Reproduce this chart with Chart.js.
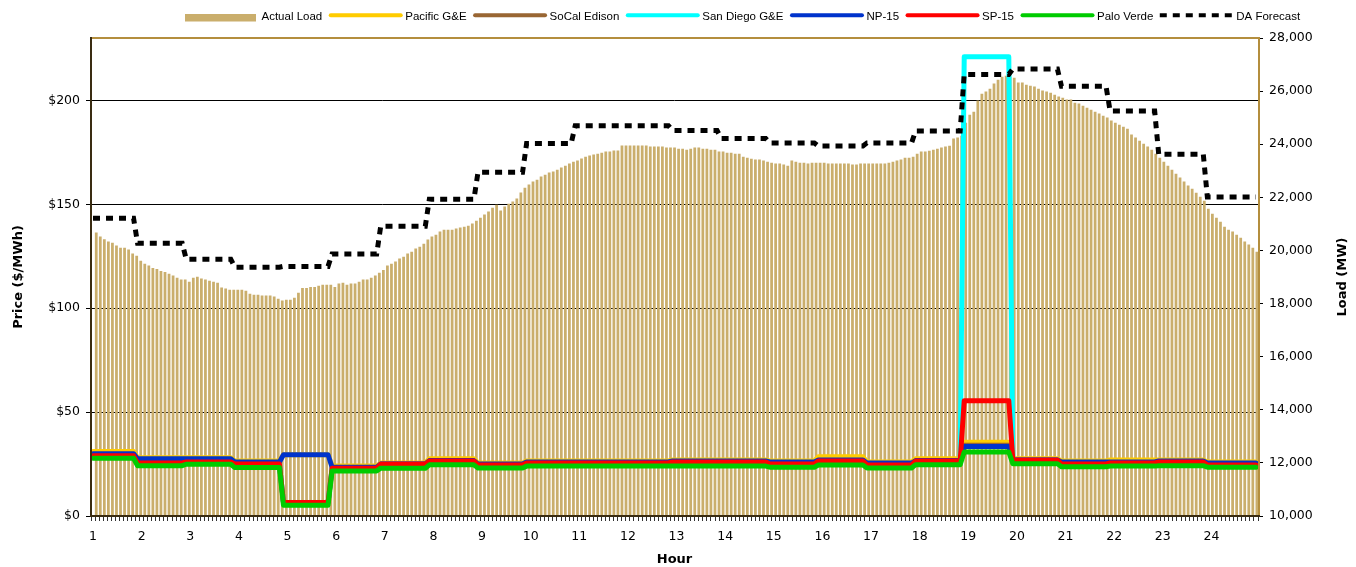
<!DOCTYPE html>
<html>
<head>
<meta charset="utf-8">
<script src="https://cdn.jsdelivr.net/npm/chart.js@4/dist/chart.umd.min.js"></script>
<style>
  html, body { margin: 0; padding: 0; background: #ffffff; }
  #wrap { width: 1356px; height: 567px; position: relative; }
</style>
</head>
<body>
<div id="wrap"><canvas id="chart" width="1356" height="567"></canvas></div>
<script>
// Hour labels on the category axis (one per 12 five-minute intervals)
const hourLabels = ['1','2','3','4','5','6','7','8','9','10','11','12','13','14','15','16','17','18','19','20','21','22','23','24'];

// Five-minute interval slots for the day
const intervalLabels = Array.from({ length: 288 }, (_, i) => 'I' + (i + 1));

// Actual system load, MW, per five-minute interval
const actualLoad = [
  20660,20510,20410,20320,20280,20170,20090,20090,20020,19870,19790,19600,
  19490,19420,19330,19290,19210,19180,19110,19040,18960,18890,18890,18810,
  18960,19000,18930,18890,18850,18810,18770,18590,18550,18510,18510,18510,
  18510,18470,18360,18320,18320,18290,18290,18290,18250,18170,18100,18130,
  18130,18210,18390,18570,18570,18610,18610,18660,18700,18700,18700,18610,
  18740,18770,18700,18740,18740,18810,18890,18890,18960,19040,19150,19250,
  19420,19490,19570,19680,19750,19870,19940,20060,20130,20240,20400,20510,
  20580,20700,20770,20770,20770,20810,20850,20880,20920,21000,21110,21220,
  21340,21450,21600,21710,21490,21640,21750,21830,21940,22170,22350,22470,
  22580,22650,22770,22840,22920,22960,23030,23110,23180,23260,23330,23370,
  23450,23520,23560,23600,23630,23670,23710,23710,23750,23750,23940,23940,
  23940,23940,23940,23940,23940,23900,23900,23900,23900,23860,23860,23860,
  23820,23820,23780,23820,23860,23860,23820,23820,23780,23780,23710,23710,
  23670,23670,23630,23630,23520,23480,23440,23410,23410,23370,23330,23290,
  23260,23260,23220,23180,23370,23330,23290,23290,23260,23290,23290,23290,
  23290,23260,23260,23260,23260,23260,23260,23220,23220,23260,23260,23260,
  23260,23260,23260,23260,23290,23330,23370,23410,23480,23480,23520,23630,
  23710,23710,23740,23780,23820,23860,23900,23930,24200,24240,24310,24800,
  25100,25210,25630,25890,25970,26080,26270,26420,26530,26570,26530,26490,
  26310,26310,26230,26190,26160,26080,26010,25970,25930,25850,25780,25740,
  25670,25670,25550,25520,25440,25360,25290,25210,25140,25060,24990,24880,
  24800,24720,24650,24570,24350,24240,24120,24010,23900,23780,23630,23480,
  23330,23180,23030,22880,22730,22580,22430,22310,22160,22010,21860,21560,
  21370,21220,21070,20880,20770,20700,20580,20470,20320,20210,20090,19940
];

// Hourly prices, $/MWh
const pacificGE   = [31, 28, 28, 26.5, 29.5, 24, 25.5, 27.5, 25.5, 26.5, 26.5, 26.5, 27, 27, 26.5, 28.5, 26, 27.5, 35.5, 27.5, 26.5, 27, 27, 26];
const socalEdison = [29, 25.5, 26, 25, 6.5, 23, 25, 26.5, 24.5, 25.5, 25.5, 25.5, 26, 26, 25, 26.5, 24.5, 26.5, 34, 27, 25, 25.5, 26, 24.5];
const sanDiegoGE  = [29, 25.5, 26, 25, 6.5, 23, 25, 26.5, 24.5, 25.5, 25.5, 25.5, 26, 26, 25, 26.5, 24.5, 26.5, 221, 27, 25, 25.5, 26, 24.5];
const np15        = [30, 27.5, 27.5, 26, 29.5, 23.5, 25, 26.7, 25, 26, 26, 26, 26.5, 26.5, 26, 27, 25.5, 26.7, 33.5, 27, 26, 26, 26.5, 25.5];
const sp15        = [29, 25.5, 26, 25, 6.5, 23, 25, 26.5, 24.5, 25.5, 25.5, 25.5, 26, 26, 25, 26.5, 24.5, 26.5, 55.5, 27, 25, 25.5, 26, 24.5];
const paloVerde   = [27.8, 24.2, 24.9, 23.3, 5.2, 21.7, 23, 24.6, 23.1, 24, 24, 24, 24, 24, 23.5, 24.5, 23.1, 24.7, 30.8, 25.2, 23.7, 24, 24.2, 23.5];

// Day-ahead load forecast, MW per hour
const daForecast  = [21210, 20270, 19670, 19370, 19400, 19870, 20910, 21930, 22940, 24030, 24700, 24700, 24520, 24220, 24050, 23930, 24050, 24500, 26630, 26830, 26180, 25250, 23620, 22010];

// Tick values for the two value axes
const priceTicks = [0, 50, 100, 150, 200];
const loadTicks  = [10000, 12000, 14000, 16000, 18000, 20000, 22000, 24000, 26000, 28000];

// Hourly values repeated over the interval slots of each hour
// (an hour's value takes effect at the last interval of the previous hour)
const perInterval = hourly => intervalLabels.map((_, i) => hourly[Math.min(hourly.length - 1, Math.floor((i + 1) / 12))]);

const TAN = '#CAAE6C';
const GOLD = '#B48E3E';
const DARK = '#3A2C12';
const TICK_FONT = { family: 'DejaVu Sans', size: 12.5 };
const TITLE_FONT = { family: 'DejaVu Sans', size: 13, weight: 'bold' };

const lineStyle = (label, data, color, order) => ({
  type: 'line', label, data: perInterval(data), xAxisID: 'x', yAxisID: 'yPrice',
  borderColor: color, backgroundColor: color, borderWidth: 5, pointRadius: 0,
  tension: 0, fill: false, borderJoinStyle: 'round', borderCapStyle: 'round', order
});

// Plot frame: dark axis lines on left/bottom, gold edges on top/right
const plotFrame = {
  id: 'plotFrame',
  afterDatasetsDraw(chart) {
    const { ctx, chartArea: a } = chart;
    ctx.save();
    ctx.lineWidth = 2;
    ctx.strokeStyle = GOLD;
    ctx.beginPath();
    ctx.moveTo(a.left, a.top);
    ctx.lineTo(a.right + 1, a.top);
    ctx.lineTo(a.right + 1, a.bottom);
    ctx.stroke();
    ctx.strokeStyle = DARK;
    ctx.beginPath();
    ctx.moveTo(a.left, a.top - 1);
    ctx.lineTo(a.left, a.bottom);
    ctx.lineTo(a.right + 2, a.bottom);
    ctx.stroke();
    ctx.restore();
  }
};

// Secondary axis title, reading bottom-to-top like the primary one
const loadTitle = {
  id: 'loadTitle',
  afterDraw(chart) {
    const { ctx, chartArea: a } = chart;
    ctx.save();
    ctx.translate(1343, (a.top + a.bottom) / 2);
    ctx.rotate(-Math.PI / 2);
    ctx.font = `bold ${TITLE_FONT.size}px "${TITLE_FONT.family}"`;
    ctx.fillStyle = '#000';
    ctx.textAlign = 'center';
    ctx.textBaseline = 'middle';
    ctx.fillText('Load (MW)', 0, 0);
    ctx.restore();
  }
};

// Single-row legend with long line samples
const topLegend = {
  id: 'topLegend',
  afterDraw(chart) {
    const { ctx } = chart;
    const sampleW = 74, gapText = 2.5, gapItem = 6.5;
    let x = 185;
    ctx.save();
    ctx.font = '11.5px "Liberation Sans"';
    ctx.textBaseline = 'middle';
    ctx.fillStyle = '#000';
    chart.data.datasets.forEach(ds => {
      if (ds.type === 'bar') {
        ctx.fillStyle = ds.backgroundColor;
        ctx.fillRect(x, 14, sampleW - 3, 7.5);
      } else {
        ctx.strokeStyle = ds.borderColor;
        ctx.lineWidth = 4;
        if (ds.borderDash) {
          ctx.setLineDash(ds.borderDash);
          ctx.lineCap = 'butt';
          ctx.beginPath(); ctx.moveTo(x, 15.3); ctx.lineTo(x + sampleW, 15.3); ctx.stroke();
          ctx.setLineDash([]);
        } else {
          ctx.lineCap = 'round';
          ctx.beginPath(); ctx.moveTo(x + 2, 15.3); ctx.lineTo(x + sampleW - 2, 15.3); ctx.stroke();
        }
      }
      const tx = x + sampleW + gapText;
      ctx.fillStyle = '#000';
      ctx.fillText(ds.label, tx, 17);
      x = tx + ctx.measureText(ds.label).width + gapItem;
    });
    ctx.restore();
  }
};

new Chart(document.getElementById('chart'), {
  type: 'bar',
  data: {
    labels: intervalLabels,
    datasets: [
      {
        type: 'bar', label: 'Actual Load',
        data: actualLoad.map((v, i) => ({ x: i, y: v })),
        xAxisID: 'xBar', yAxisID: 'yLoad',
        backgroundColor: TAN, borderWidth: 0,
        barThickness: 2.1, order: 20
      },
      lineStyle('Pacific G&E', pacificGE, '#FFCC00', 7),
      lineStyle('SoCal Edison', socalEdison, '#996633', 6),
      lineStyle('San Diego G&E', sanDiegoGE, '#00FFFF', 5),
      lineStyle('NP-15', np15, '#0033CC', 4),
      lineStyle('SP-15', sp15, '#FF0000', 3),
      lineStyle('Palo Verde', paloVerde, '#00CC00', 2),
      {
        type: 'line', label: 'DA Forecast', data: perInterval(daForecast),
        xAxisID: 'x', yAxisID: 'yLoad',
        borderColor: '#000000', backgroundColor: '#000000', borderWidth: 5,
        borderDash: [7, 6], borderCapStyle: 'butt', pointRadius: 0, tension: 0, fill: false, order: 1
      }
    ]
  },
  options: {
    responsive: false,
    animation: false,
    devicePixelRatio: 1,
    layout: { padding: { top: 38, left: 0, right: 0, bottom: 0 } },
    plugins: { legend: { display: false }, tooltip: { enabled: false } },
    scales: {
      x: {
        type: 'category', position: 'bottom', offset: true,
        grid: { offset: true, drawOnChartArea: false, drawTicks: true, tickLength: 5, color: '#333333', lineWidth: 1 },
        border: { display: false },
        ticks: {
          autoSkip: false, maxRotation: 0, minRotation: 0, padding: 8, color: '#000', font: TICK_FONT,
          callback: (v, i) => (i % 12 === 0 ? hourLabels[i / 12] : '')
        },
        title: { display: true, text: 'Hour', color: '#000', font: TITLE_FONT, padding: { top: 0, bottom: 0 } },
        afterFit: s => { s.height = 51; }
      },
      xBar: { type: 'linear', display: false, offset: false, min: -1.558, max: 287.02 },
      yPrice: {
        type: 'linear', position: 'left', min: 0, max: 230,
        afterBuildTicks: s => { s.ticks = priceTicks.map(v => ({ value: v })); },
        ticks: { color: '#000', font: TICK_FONT, padding: 6, callback: v => '$' + v },
        grid: { color: '#000000', lineWidth: 1, tickLength: 5, drawTicks: true },
        border: { display: false },
        title: { display: true, text: 'Price ($/MWh)', color: '#000', font: TITLE_FONT, padding: { top: 11 } },
        afterFit: s => { s.width = 91; }
      },
      yLoad: {
        type: 'linear', position: 'right', min: 10000, max: 28000,
        afterBuildTicks: s => { s.ticks = loadTicks.map(v => ({ value: v })); },
        ticks: { color: '#000', font: TICK_FONT, padding: 6 },
        grid: { drawOnChartArea: false, tickLength: 5, color: '#000000', drawTicks: true },
        border: { display: false },
        afterFit: s => { s.width = 98; }
      }
    }
  },
  plugins: [plotFrame, loadTitle, topLegend]
});
</script>
</body>
</html>
